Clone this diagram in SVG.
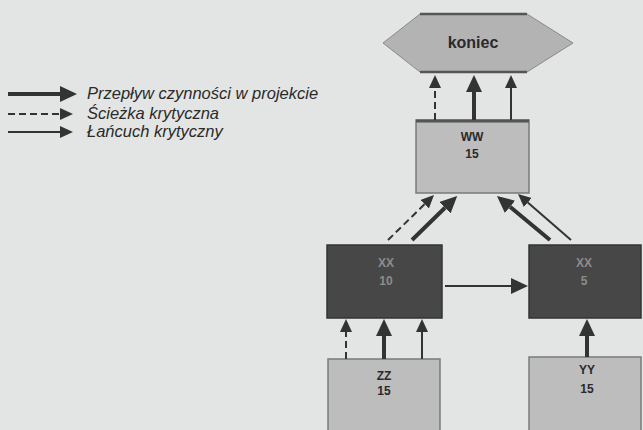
<svg xmlns="http://www.w3.org/2000/svg" width="643" height="430" viewBox="0 0 643 430">
<style>
.bg{fill:#e3e5e5}
.lt{fill:#bdbdbd;stroke:#7a7a7a;stroke-width:1.5}
.dk{fill:#474747;stroke:#333;stroke-width:1.5}
.hex{fill:#b3b3b3;stroke:#8a8a8a;stroke-width:1}
.lbl{font-family:"Liberation Sans",Arial,sans-serif;font-weight:bold;font-size:12px;text-anchor:middle;fill:#2a2a2a}
.big{font-size:16px}
.lbld{font-family:"Liberation Sans",Arial,sans-serif;font-weight:bold;font-size:12px;text-anchor:middle;fill:#8c8c8c}
.leg{font-family:"Liberation Sans",Arial,sans-serif;font-style:italic;font-size:16.5px;fill:#2a2a2a}
.thick{stroke:#333;stroke-width:4;fill:none}
.thin{stroke:#333;stroke-width:2;fill:none}
.dash{stroke:#333;stroke-width:2;fill:none;stroke-dasharray:7 4}
</style>
<defs>
<marker id="hb" markerUnits="userSpaceOnUse" markerWidth="18" markerHeight="18" refX="0" refY="8" orient="auto"><path d="M0,0 L17,8 L0,16 z" fill="#333"/></marker>
<marker id="hs" markerUnits="userSpaceOnUse" markerWidth="14" markerHeight="14" refX="0" refY="6" orient="auto"><path d="M0,0 L13,6 L0,12 z" fill="#333"/></marker>
</defs>
<rect class="bg" x="0" y="0" width="643" height="430"/>
<g id="legend">
<line class="thick" x1="8" y1="94" x2="60" y2="94" marker-end="url(#hb)"/>
<text class="leg" x="87" y="99">Przepływ czynności w projekcie</text>
<line class="dash" x1="8" y1="114" x2="60" y2="114" marker-end="url(#hs)"/>
<text class="leg" x="87" y="119">Ścieżka krytyczna</text>
<line class="thin" x1="8" y1="132" x2="60" y2="132" marker-end="url(#hs)"/>
<text class="leg" x="87" y="137">Łańcuch krytyczny</text>
</g>
<g id="koniec">
<polygon class="hex" points="383,43 420,14 527,14 573,43 527,72 420,72"/>
<line x1="420" y1="14" x2="527" y2="14" stroke="#555" stroke-width="2.5"/>
<line x1="420" y1="72" x2="527" y2="72" stroke="#555" stroke-width="2.5"/>
<text class="lbl big" x="473" y="48">koniec</text>
</g>
<g id="WW">
<rect class="lt" x="416" y="120" width="113" height="73"/>
<line x1="416" y1="121" x2="529" y2="121" stroke="#555" stroke-width="3"/>
<text class="lbl" x="472" y="141">WW</text>
<text class="lbl" x="472" y="158">15</text>
</g>
<g id="XX10">
<rect class="dk" x="327" y="245" width="115" height="73"/>
<text class="lbld" x="386" y="267">XX</text>
<text class="lbld" x="386" y="285">10</text>
</g>
<g id="XX5">
<rect class="dk" x="529" y="245" width="112" height="73"/>
<text class="lbld" x="584" y="267">XX</text>
<text class="lbld" x="584" y="285">5</text>
</g>
<g id="ZZ">
<rect class="lt" x="328" y="359" width="112" height="75"/>
<text class="lbl" x="384" y="380">ZZ</text>
<text class="lbl" x="384" y="395">15</text>
</g>
<g id="YY">
<rect class="lt" x="529" y="357" width="112" height="77"/>
<text class="lbl" x="587" y="374">YY</text>
<text class="lbl" x="587" y="393">15</text>
</g>
<g id="connectors">
<line class="dash" x1="435" y1="120" x2="435" y2="88" marker-end="url(#hs)"/>
<line class="thick" x1="474" y1="120" x2="474" y2="92" marker-end="url(#hb)"/>
<line class="thin" x1="511" y1="120" x2="511" y2="88" marker-end="url(#hs)"/>
<line class="dash" x1="388" y1="240" x2="424.7" y2="204.1" marker-end="url(#hs)"/>
<line class="thick" x1="412" y1="240" x2="445" y2="207.8" marker-end="url(#hb)"/>
<line class="thick" x1="550" y1="240" x2="510" y2="206.8" marker-end="url(#hb)"/>
<line class="thin" x1="571" y1="240" x2="527.8" y2="202.5" marker-end="url(#hs)"/>
<line class="thin" x1="445" y1="286" x2="511" y2="286" marker-end="url(#hb)"/>
<line class="dash" x1="346" y1="359" x2="346" y2="332" marker-end="url(#hs)"/>
<line class="thick" x1="384" y1="359" x2="384" y2="336" marker-end="url(#hb)"/>
<line class="thin" x1="422" y1="359" x2="422" y2="332" marker-end="url(#hs)"/>
<line class="thick" x1="587" y1="357" x2="587" y2="336" marker-end="url(#hb)"/>
</g>
</svg>
